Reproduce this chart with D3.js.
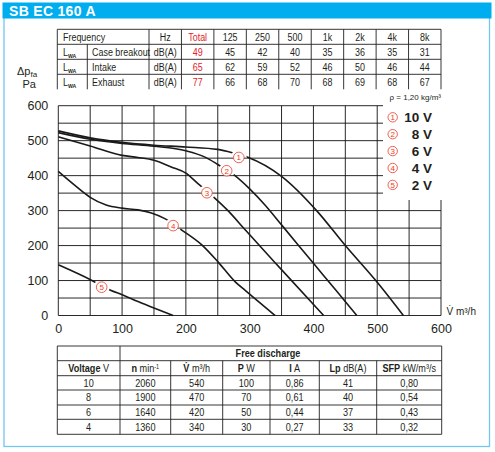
<!DOCTYPE html>
<html>
<head>
<meta charset="utf-8">
<script src="https://cdn.jsdelivr.net/npm/d3@7"></script>
<style>
body { margin: 0; background: #fff; }
svg { display: block; font-family: "Liberation Sans", Arial, sans-serif; }
</style>
</head>
<body>
<svg id="chart"></svg>
<script>
// ---- data ---->
var title = "SB EC 160 A";
var bands = ["125", "250", "500", "1k", "2k", "4k", "8k"];
var soundRows = ["Case breakout", "Intake", "Exhaust"];
var soundTotal = [49, 65, 77];
var soundBands = [
    [45, 42, 40, 35, 36, 35, 31],
    [62, 59, 52, 46, 50, 46, 44],
    [66, 68, 70, 68, 69, 68, 67]
];

var axisTicks = [0, 100, 200, 300, 400, 500, 600];
var voltages = ["10 V", "8 V", "6 V", "4 V", "2 V"];
// pressure curves: [flow m3/h, pressure Pa]
var curve10V = [[0, 528], [50, 508], [100, 495], [150, 487], [200, 482], [250, 475], [274, 465],
    [298, 452], [350, 398], [405, 300], [450, 200], [500, 95], [541, 0]];
var curve8V = [[0, 523], [50, 504], [100, 492], [150, 484], [200, 471], [230, 453], [250, 432],
    [274, 404], [300, 362], [324, 316], [351, 257], [401, 147], [434, 75], [468, 0]];
var curve6V = [[0, 511], [50, 485], [100, 458], [125, 452], [150, 444], [177, 425], [200, 407],
    [219, 377], [244, 338], [266, 300], [293, 245], [351, 129], [416, 0]];
var curve4V = [[0, 412], [26, 372], [50, 338], [75, 316], [100, 307], [125, 302], [146, 293],
    [167, 277], [193, 245], [225, 202], [251, 152], [277, 97], [293, 72], [340, 0]];
var curve2V = [[0, 145], [52, 101], [81, 73], [102, 58], [125, 40], [152, 20], [180, 0]];
// where the circled numbers sit on each curve
var curveLabelAt = [[283, 452], [264, 414], [233, 351], [180, 257], [68, 81]];

var tableVoltage = [10, 8, 6, 4];
var tableSpeed = [2060, 1900, 1640, 1360];
var tableFlow = [540, 470, 420, 340];
var tablePower = [100, 70, 50, 30];
var tableCurrent = ["0,86", "0,61", "0,44", "0,27"];
var tableLp = [41, 40, 37, 33];
var tableSfp = ["0,80", "0,54", "0,43", "0,32"];
// <---- data

var BLUE = "#00aeef";
var FRAME = "#74c8ef";
var RED = "#ee3a24";
var INK = "#231f20";
var NARROW = 0.86; // tables use a condensed face, squeeze the regular one

var svg = d3.select("#chart")
    .attr("width", 495)
    .attr("height", 452);

// Frame + title bar ---->
svg.append("rect")
    .attr("x", 4).attr("y", 12)
    .attr("width", 485.5).attr("height", 434.5)
    .attr("fill", "none")
    .attr("stroke", FRAME)
    .attr("stroke-width", 1.3);
svg.append("rect")
    .attr("x", 2.5).attr("y", 2.5)
    .attr("width", 489).attr("height", 16)
    .attr("fill", BLUE);
svg.append("text")
    .attr("x", 9).attr("y", 16)
    .attr("fill", "#fff")
    .attr("font-weight", "bold")
    .attr("font-size", 14)
    .attr("letter-spacing", 0.3)
    .text(title);
// <---- Frame + title bar

function hline(g, x0, x1, yy) {
    g.append("line").attr("x1", x0).attr("x2", x1).attr("y1", yy).attr("y2", yy);
}
function vline(g, xx, y0, y1) {
    g.append("line").attr("x1", xx).attr("x2", xx).attr("y1", y0).attr("y2", y1);
}
function ntext(g, xx, yy, anchor) {
    return g.append("text")
        .attr("transform", "translate(" + xx + "," + yy + ") scale(" + NARROW + ",1)")
        .attr("text-anchor", anchor || "start");
}

// Sound table ---->
var topCols = d3.scaleBand().domain(["Hz", "Total"].concat(bands)).range([149, 441]);
var topRows = d3.scaleBand().domain(["Frequency"].concat(soundRows)).range([29.3, 89.3]);
var topTable = svg.append("g").attr("font-size", 10.4).attr("fill", INK);
var topLines = topTable.append("g").attr("stroke", INK).attr("stroke-width", 0.9);

topRows.domain().forEach(function(r) {
    hline(topLines, 57.3, 441, topRows(r));
});
vline(topLines, 57.3, 29.3, 89.3);
vline(topLines, 87.3, topRows(soundRows[0]), 89.3);
topCols.domain().forEach(function(c) {
    vline(topLines, topCols(c), 29.3, 89.3);
});
vline(topLines, 441, 29.3, 89.3);

function rowBase(scale, key) {
    return scale(key) + scale.bandwidth() / 2 + 3.8;
}
function colMid(scale, key) {
    return scale(key) + scale.bandwidth() / 2;
}

var headY = rowBase(topRows, "Frequency");
ntext(topTable, 63, headY).text("Frequency");
ntext(topTable, colMid(topCols, "Hz"), headY, "middle").text("Hz");
ntext(topTable, colMid(topCols, "Total"), headY, "middle").attr("fill", "#e4202a").text("Total");
bands.forEach(function(b) {
    ntext(topTable, colMid(topCols, b), headY, "middle").text(b);
});
soundRows.forEach(function(r, i) {
    var yy = rowBase(topRows, r);
    var lwa = ntext(topTable, 63, yy);
    lwa.append("tspan").text("L");
    lwa.append("tspan").attr("dy", 2.5).attr("font-size", 6).attr("font-weight", "bold").text("WA");
    ntext(topTable, 92, yy).text(r);
    ntext(topTable, colMid(topCols, "Hz"), yy, "middle").text("dB(A)");
    ntext(topTable, colMid(topCols, "Total"), yy, "middle").attr("fill", "#e4202a").text(soundTotal[i]);
    bands.forEach(function(b, j) {
        ntext(topTable, colMid(topCols, b), yy, "middle").text(soundBands[i][j]);
    });
});
// <---- Sound table

// Fan curve chart ---->
var x = d3.scaleLinear().domain([0, 600]).range([58.3, 441]);
var y = d3.scaleLinear().domain([0, 600]).range([315.5, 105.7]);
var gridTicks = d3.range(0, 601, 50);

var grid = svg.append("g").attr("stroke", "#111").attr("stroke-width", 0.9);
gridTicks.forEach(function(t) {
    hline(grid, x(0), x(600), y(t));
    vline(grid, x(t), y(0), y(600));
});

svg.append("g")
    .attr("transform", "translate(" + x(0) + ",0)")
    .call(d3.axisLeft(y).tickValues(axisTicks).tickSize(0).tickPadding(10))
    .call(function(g) { g.select(".domain").remove(); })
    .selectAll("text")
    .attr("font-size", 12.5).attr("fill", INK)
    .attr("font-family", "Liberation Sans, Arial, sans-serif");

svg.append("g")
    .attr("transform", "translate(0," + y(0) + ")")
    .call(d3.axisBottom(x).tickValues(axisTicks).tickSize(0).tickPadding(9))
    .call(function(g) { g.select(".domain").remove(); })
    .selectAll("text")
    .attr("font-size", 12.5).attr("fill", INK)
    .attr("font-family", "Liberation Sans, Arial, sans-serif");

// axis titles
var yTitle = svg.append("text").attr("x", 17).attr("y", 75).attr("font-size", 11).attr("fill", INK);
yTitle.append("tspan").text("\u0394p");
yTitle.append("tspan").attr("dy", 2).attr("font-size", 8).text("fa");
svg.append("text").attr("x", 22.5).attr("y", 87.5).attr("font-size", 11).attr("fill", INK).text("Pa");
svg.append("text").attr("x", 446.5).attr("y", 315).attr("font-size", 10).attr("fill", INK)
    .text("V\u0307 m\u00b3/h");
svg.append("text").attr("x", 441).attr("y", 100).attr("font-size", 8).attr("fill", INK)
    .attr("text-anchor", "end").text("\u03c1 = 1,20 kg/m\u00b3");

// gaps in the curves around the circled numbers
var mask = svg.append("defs").append("mask").attr("id", "gaps");
mask.append("rect").attr("width", 495).attr("height", 452).attr("fill", "#fff");
curveLabelAt.forEach(function(p) {
    mask.append("circle").attr("cx", x(p[0])).attr("cy", y(p[1])).attr("r", 8).attr("fill", "#000");
});

var line = d3.line()
    .x(function(d) { return x(d[0]); })
    .y(function(d) { return y(d[1]); })
    .curve(d3.curveMonotoneX);

svg.append("g")
    .attr("mask", "url(#gaps)")
    .attr("fill", "none")
    .attr("stroke", "#1a1a1a")
    .attr("stroke-width", 1.6)
    .selectAll("path")
    .data([curve10V, curve8V, curve6V, curve4V, curve2V])
    .enter().append("path")
    .attr("d", line);

function circledNumber(g, cx, cy, n, r) {
    g.append("circle").attr("cx", cx).attr("cy", cy).attr("r", r)
        .attr("fill", "#fff").attr("stroke", RED).attr("stroke-width", 0.8);
    g.append("text").attr("x", cx).attr("y", cy + 2.9)
        .attr("text-anchor", "middle").attr("font-size", 8).attr("fill", RED).text(n);
}

var curveLabels = svg.append("g");
curveLabelAt.forEach(function(p, i) {
    circledNumber(curveLabels, x(p[0]), y(p[1]), i + 1, 5.3);
});

// legend box sits over the grid
svg.append("rect")
    .attr("x", 383).attr("y", 102)
    .attr("width", 62).attr("height", 98)
    .attr("fill", "#fff");
var legend = svg.append("g");
voltages.forEach(function(v, i) {
    var cy = 117.3 + i * 16.9;
    circledNumber(legend, 392.7, cy, i + 1, 4.7);
    legend.append("text").attr("x", 432).attr("y", cy + 5)
        .attr("text-anchor", "end").attr("font-size", 13.5).attr("font-weight", "bold")
        .attr("fill", INK).text(v);
});
// <---- Fan curve chart

// Free discharge table ---->
var botColX = [57.3, 120, 170.7, 222.7, 270, 319.3, 376.7, 441.7];
var botRowY = [346, 360.7, 375.7, 390, 405, 419.3, 434.3];
var botTable = svg.append("g").attr("font-size", 10.6).attr("fill", INK);
var botLines = botTable.append("g").attr("stroke", INK).attr("stroke-width", 0.9);
botRowY.forEach(function(yy) { hline(botLines, 57.3, 441.7, yy); });
botColX.forEach(function(xx, i) {
    var top = (i == 0 || i == 1 || i == botColX.length - 1) ? botRowY[0] : botRowY[1];
    vline(botLines, xx, top, botRowY[botRowY.length - 1]);
});

function cellMid(i) { return (botColX[i] + botColX[i + 1]) / 2; }
function rowMid(i) { return (botRowY[i] + botRowY[i + 1]) / 2 + 3.8; }

ntext(botTable, 268, rowMid(0), "middle").attr("font-weight", "bold").text("Free discharge");

var heads = [
    ["Voltage", " V"], ["n", " min", "-1"], ["V\u0307", " m\u00b3/h"], ["P", " W"],
    ["I", " A"], ["Lp", " dB(A)"], ["SFP", " kW/m\u00b3/s"]
];
heads.forEach(function(h, i) {
    var t = ntext(botTable, cellMid(i), rowMid(1), "middle");
    t.append("tspan").attr("font-weight", "bold").text(h[0]);
    t.append("tspan").text(h[1]);
    if (h[2]) t.append("tspan").attr("dy", -3).attr("font-size", 6.5).text(h[2]);
});

var cols = [tableVoltage, tableSpeed, tableFlow, tablePower, tableCurrent, tableLp, tableSfp];
tableVoltage.forEach(function(v, r) {
    cols.forEach(function(col, c) {
        ntext(botTable, cellMid(c), rowMid(r + 2), "middle").text(col[r]);
    });
});
// <---- Free discharge table
</script>
</body>
</html>
